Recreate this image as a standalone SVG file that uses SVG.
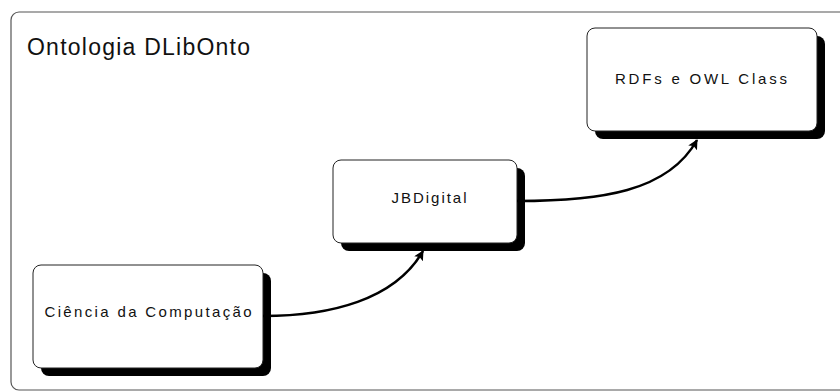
<svg xmlns="http://www.w3.org/2000/svg" width="840" height="392" viewBox="0 0 840 392">
<defs>
<style>
.frame{fill:#fff;stroke:#555;stroke-width:1.2}
.shadow{fill:#000}
.box{fill:#fff;stroke:#222;stroke-width:1}
.lbl{font-family:"Liberation Sans",Arial,sans-serif;font-size:15px;fill:#111;text-anchor:middle}
.title{font-family:"Liberation Sans",Arial,sans-serif;font-size:23px;fill:#111}
.conn{fill:none;stroke:#000;stroke-width:2.5}
</style>
<marker id="arr" viewBox="0 0 10 10" refX="9" refY="5" markerWidth="4" markerHeight="4" orient="auto" markerUnits="strokeWidth">
<path d="M0,0 L10,5 L0,10 L2,5 Z" fill="#000"/>
</marker>
</defs>
<rect width="840" height="392" fill="#fff"/>
<g id="frame">
<rect class="frame" x="11" y="12" width="840" height="378" rx="8"/>
<text class="title" x="27" y="55" textLength="223" lengthAdjust="spacing">Ontologia DLibOnto</text>
</g>
<g id="node-rdfs">
<rect class="shadow" x="595" y="36" width="230" height="103" rx="8"/>
<rect class="box" x="587" y="28" width="230" height="103" rx="8"/>
<text class="lbl" x="701" y="84" textLength="172" lengthAdjust="spacing">RDFs e OWL Class</text>
</g>
<g id="node-jbdigital">
<rect class="shadow" x="341" y="168" width="184" height="83" rx="8"/>
<rect class="box" x="333" y="160" width="184" height="83" rx="8"/>
<text class="lbl" x="429" y="203" textLength="75" lengthAdjust="spacing">JBDigital</text>
</g>
<g id="node-ciencia">
<rect class="shadow" x="41" y="273" width="230" height="103" rx="8"/>
<rect class="box" x="33" y="265" width="230" height="103" rx="8"/>
<text class="lbl" x="148" y="317" textLength="207" lengthAdjust="spacing">Ciência da Computação</text>
</g>
<g id="connectors">
<path class="conn" d="M263,316 C330,316 395,300 423,251" marker-end="url(#arr)"/>
<path class="conn" d="M517,201 C600,201 668,192 697,140" marker-end="url(#arr)"/>
</g>
</svg>
